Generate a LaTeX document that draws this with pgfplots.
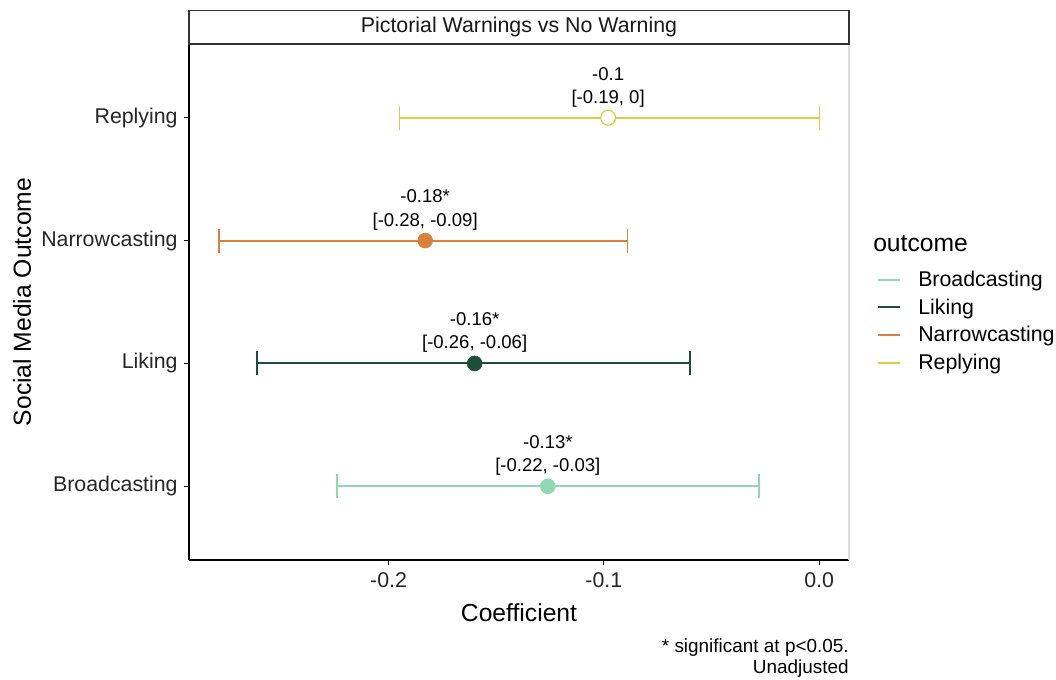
\documentclass[border=0pt]{standalone}
\usepackage{pgfplots}
\pgfplotsset{compat=1.18}
\usepackage{fontspec}
\setmainfont{Liberation Sans}
\definecolor{cBroad}{HTML}{8ED8B4}
\definecolor{cLike}{HTML}{1E4D3B}
\definecolor{cNarrow}{HTML}{D9803A}
\definecolor{cReply}{HTML}{D8D040}
\begin{document}
\begin{tikzpicture}
\useasboundingbox (0,0) rectangle (792pt,509.25pt);
\begin{axis}[
  at={(141.75pt,89.25pt)}, anchor=south west,
  scale only axis, width=495pt, height=387pt,
  xmin=-0.2927, xmax=0.0139, ymin=0.4, ymax=4.6,
  axis x line*=bottom, axis y line*=left,
  axis line style={line width=0.8pt, black},
  xtick={-0.2,-0.1,0}, xticklabels={-0.2,-0.1,0.0},
  ytick={1,2,3,4}, yticklabels={Broadcasting,Liking,Narrowcasting,Replying},
  tick align=outside, major tick length=4pt,
  tick style={line width=0.8pt, black},
  ticklabel style={font=\fontsize{16}{19}\selectfont, text=black!85},
  xticklabel style={yshift=-2pt},
  yticklabel style={xshift=-1pt},
  xlabel={Coefficient}, ylabel={Social Media Outcome},
  label style={font=\fontsize{18.5}{22}\selectfont},
  xlabel style={at={(axis description cs:0.5,0)}, anchor=north, yshift=-29pt},
  ylabel style={at={(axis description cs:-0.253,0.5)}, anchor=center},
  clip=false,
  legend style={at={(1.0424,0.562)}, anchor=north west, draw=none, fill=none,
    inner sep=0pt, row sep=5.8pt, column sep=12.75pt,
    nodes={inner sep=0pt, text height=12pt, text depth=3pt, anchor=west},
    font=\fontsize{16}{19}\selectfont},
  legend cell align=left,
  legend image code/.code={\draw[#1] (0pt,0.4pt) -- (16.5pt,0.4pt);},
]
\addlegendimage{draw=cBroad, line width=1.5pt}\addlegendentry{Broadcasting}
\addlegendimage{draw=cLike, line width=1.5pt}\addlegendentry{Liking}
\addlegendimage{draw=cNarrow, line width=1.5pt}\addlegendentry{Narrowcasting}
\addlegendimage{draw=cReply, line width=1.5pt}\addlegendentry{Replying}
% confidence intervals (lower, upper) with caps
\addplot[color=cBroad, line width=1.4pt, mark=|, mark size=9pt, mark options={line width=1.2pt}, forget plot]
  coordinates {(-0.224,1) (-0.028,1)};
\addplot[color=cLike, line width=1.4pt, mark=|, mark size=9pt, mark options={line width=1.2pt}, forget plot]
  coordinates {(-0.261,2) (-0.060,2)};
\addplot[color=cNarrow, line width=1.4pt, mark=|, mark size=9pt, mark options={line width=1.2pt}, forget plot]
  coordinates {(-0.2787,3) (-0.089,3)};
\addplot[color=cReply, line width=1.4pt, mark=|, mark size=9pt, mark options={line width=1.2pt}, forget plot]
  coordinates {(-0.195,4) (0.0002,4)};
% point estimates
\addplot[only marks, mark=*, mark size=5.6pt, mark options={fill=cBroad, draw=cBroad}, forget plot]
  coordinates {(-0.126,1)};
\addplot[only marks, mark=*, mark size=5.6pt, mark options={fill=cLike, draw=cLike}, forget plot]
  coordinates {(-0.160,2)};
\addplot[only marks, mark=*, mark size=5.6pt, mark options={fill=cNarrow, draw=cNarrow}, forget plot]
  coordinates {(-0.183,3)};
\addplot[only marks, mark=*, mark size=5.6pt, mark options={fill=white, draw=cReply, line width=0.9pt}, forget plot]
  coordinates {(-0.098,4)};
% annotations
\tikzset{ann/.style={font=\fontsize{13.9}{16}\selectfont, anchor=center, text=black}}
\node[ann] at (axis cs:-0.126,1) [yshift=33pt] {-0.13*};
\node[ann] at (axis cs:-0.126,1) [yshift=14.5pt] {[-0.22, -0.03]};
\node[ann] at (axis cs:-0.160,2) [yshift=33pt] {-0.16*};
\node[ann] at (axis cs:-0.160,2) [yshift=14.5pt] {[-0.26, -0.06]};
\node[ann] at (axis cs:-0.183,3) [yshift=33pt] {-0.18*};
\node[ann] at (axis cs:-0.183,3) [yshift=14.5pt] {[-0.28, -0.09]};
\node[ann] at (axis cs:-0.098,4) [yshift=33pt] {-0.1};
\node[ann] at (axis cs:-0.098,4) [yshift=14.5pt] {[-0.19, 0]};
% right panel border
\draw[black!13, line width=1.5pt] (rel axis cs:1,0) -- (rel axis cs:1,1);
% strip
\draw[black!80, line width=0.8pt, fill=white] (rel axis cs:0,1) rectangle ([yshift=25pt]rel axis cs:1,1);
\node[font=\fontsize{16}{19}\selectfont, text=black!90] at ([yshift=12.5pt]rel axis cs:0.5,1) {Pictorial Warnings vs No Warning};
% caption
\node[font=\fontsize{14.2}{17}\selectfont, anchor=north east, align=right, inner sep=0pt] at ([yshift=-59pt]rel axis cs:1,0) {* significant at p<0.05.\\[-1pt]Unadjusted};
% legend title
\node[font=\fontsize{18.5}{22}\selectfont, anchor=west, inner sep=0pt] at ([xshift=18pt]rel axis cs:1,0.614) {outcome};
\end{axis}
\end{tikzpicture}
\end{document}
